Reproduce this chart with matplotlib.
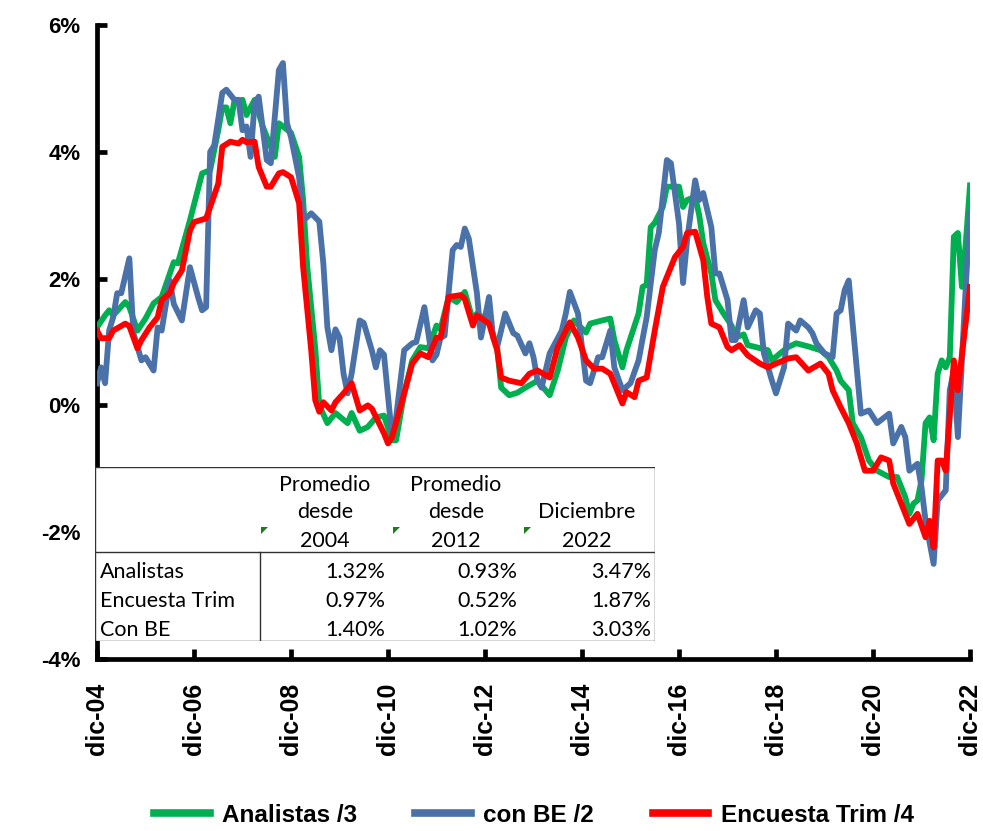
import matplotlib
matplotlib.use("Agg")
import matplotlib.pyplot as plt
from matplotlib.lines import Line2D
from matplotlib.patches import Polygon

# ---------------- data (month index: 0 = dic-04 ... 216 = dic-22) ----------------
analistas_mes = [0, 2, 3, 4, 7, 8, 10, 12, 14, 16, 19, 20, 23, 26, 28, 30, 31, 32, 33, 34, 36, 37, 39, 41,
                 44, 45, 48, 50, 51, 52, 54, 55, 57, 59, 62, 63, 65, 67, 69, 71, 73, 74, 76, 78, 80, 82,
                 84, 85, 87, 89, 91, 93, 94, 97, 99, 100, 102, 104, 106, 109, 112, 114, 116, 118, 121,
                 122, 125, 127, 128, 130, 131, 134, 135, 136, 137, 138, 140, 141, 144, 145, 146, 148,
                 149, 150, 152, 153, 155, 157, 158, 160, 161, 163, 166, 167, 169, 171, 173, 176, 179,
                 181, 183, 184, 186, 187, 189, 191, 193, 196, 198, 200, 201, 202, 203, 204, 205, 206,
                 207, 208, 209, 210, 211, 212, 213, 214, 215, 216]
analistas_val = [1.23, 1.42, 1.50, 1.42, 1.63, 1.55, 1.18, 1.37, 1.61, 1.71, 2.26, 2.24, 2.92, 3.66, 3.71,
                 4.34, 4.70, 4.70, 4.45, 4.80, 4.82, 4.58, 4.82, 4.40, 3.92, 4.45, 4.30, 3.92, 3.24, 2.20,
                 0.90, 0.00, -0.28, -0.12, -0.28, -0.12, -0.40, -0.34, -0.19, -0.16, -0.55, -0.55, 0.19,
                 0.71, 0.92, 0.90, 1.26, 1.20, 1.71, 1.63, 1.79, 1.34, 1.45, 1.32, 0.92, 0.28, 0.16,
                 0.20, 0.28, 0.39, 0.16, 0.55, 1.07, 1.34, 1.15, 1.29, 1.34, 1.37, 1.03, 0.60, 0.87,
                 1.45, 1.87, 1.90, 2.81, 2.88, 3.13, 3.45, 3.45, 3.13, 3.24, 3.29, 3.00, 2.56, 2.08,
                 1.66, 1.45, 1.26, 1.07, 1.12, 0.95, 0.92, 0.87, 0.71, 0.82, 0.92, 0.98, 0.93, 0.87,
                 0.76, 0.55, 0.39, 0.24, -0.28, -0.50, -0.87, -1.03, -1.13, -1.13, -1.45, -1.71, -1.55,
                 -1.50, -1.18, -0.28, -0.19, -0.55, 0.50, 0.71, 0.60, 0.76, 2.66, 2.72, 1.87, 2.60, 3.47]

conbe_mes = [0, 1, 2, 3, 4, 5, 6, 8, 9, 11, 12, 14, 15, 16, 18, 19, 21, 23, 25, 26, 27, 28, 29, 31, 32,
             34, 35, 36, 37, 38, 39, 40, 42, 43, 45, 46, 47, 48, 50, 51, 52, 53, 55, 56, 57, 58, 59, 60,
             61, 62, 63, 65, 66, 68, 69, 70, 71, 73, 74, 76, 78, 79, 81, 83, 84, 85, 86, 88, 89, 90, 91,
             92, 94, 95, 97, 98, 99, 101, 103, 104, 106, 107, 108, 109, 110, 112, 115, 116, 117, 119,
             121, 122, 124, 125, 127, 128, 130, 132, 134, 136, 138, 139, 141, 142, 144, 145, 146, 148,
             149, 150, 152, 153, 154, 156, 157, 158, 160, 161, 163, 164, 165, 167, 168, 170, 171, 173,
             174, 176, 177, 178, 180, 182, 183, 184, 185, 186, 189, 191, 193, 196, 197, 199, 200, 201,
             203, 204, 205, 207, 208, 210, 211, 212, 213, 215, 216]
conbe_val = [0.35, 0.60, 0.35, 1.18, 1.39, 1.77, 1.77, 2.32, 1.14, 0.71, 0.76, 0.55, 1.23, 1.18, 1.97,
             1.60, 1.34, 2.18, 1.71, 1.50, 1.55, 4.00, 4.10, 4.93, 4.98, 4.82, 4.82, 4.34, 4.40, 3.92,
             4.77, 4.87, 3.87, 3.82, 5.29, 5.40, 4.45, 4.23, 3.60, 2.92, 2.97, 3.03, 2.90, 2.24, 1.23,
             0.87, 1.20, 1.07, 0.50, 0.19, 0.50, 1.34, 1.30, 0.87, 0.60, 0.87, 0.80, -0.50, -0.19,
             0.87, 0.98, 1.00, 1.55, 0.71, 0.80, 1.07, 1.10, 2.45, 2.53, 2.50, 2.79, 2.63, 1.77, 1.07,
             1.71, 1.07, 0.92, 1.45, 1.14, 1.10, 0.82, 0.98, 0.76, 0.39, 0.28, 0.82, 1.18, 1.45, 1.79,
             1.45, 0.39, 0.35, 0.76, 0.76, 1.18, 0.60, 0.24, 0.35, 0.71, 1.39, 2.45, 2.72, 3.87, 3.82,
             2.87, 1.93, 2.60, 3.55, 3.24, 3.35, 2.81, 2.08, 2.08, 1.66, 1.03, 1.03, 1.66, 1.23, 1.50,
             1.45, 0.82, 0.39, 0.19, 0.60, 1.29, 1.18, 1.34, 1.23, 1.14, 0.98, 0.82, 0.76, 1.45, 1.50,
             1.82, 1.97, -0.13, -0.08, -0.28, -0.13, -0.60, -0.34, -0.50, -1.03, -0.92, -1.29, -1.82,
             -2.50, -1.50, -1.34, 0.24, 0.55, -0.50, 1.93, 3.03]

encuesta_mes = [0, 1, 3, 4, 7, 8, 10, 11, 13, 15, 16, 18, 19, 21, 23, 24, 27, 28, 30, 31, 33, 35, 36, 37,
                39, 40, 42, 43, 45, 46, 48, 50, 51, 53, 54, 55, 56, 58, 59, 61, 63, 65, 67, 68, 71, 72,
                73, 76, 78, 80, 82, 84, 85, 87, 90, 91, 93, 94, 97, 99, 100, 102, 105, 107, 109, 112,
                114, 117, 119, 121, 123, 125, 127, 130, 131, 133, 134, 136, 138, 140, 143, 145, 146, 148,
                150, 151, 152, 154, 156, 157, 159, 161, 164, 166, 168, 171, 173, 176, 179, 181, 182, 184,
                186, 188, 190, 192, 194, 196, 197, 199, 201, 203, 205, 206, 207, 208, 209, 210, 212, 213,
                214, 216]
encuesta_val = [1.18, 1.06, 1.06, 1.18, 1.29, 1.25, 0.90, 1.03, 1.23, 1.39, 1.66, 1.77, 1.93, 2.13, 2.76,
                2.89, 2.95, 3.13, 3.50, 4.08, 4.16, 4.13, 4.19, 4.15, 4.16, 3.76, 3.45, 3.45, 3.66, 3.68,
                3.60, 3.19, 2.18, 0.87, 0.08, -0.10, 0.05, -0.08, 0.05, 0.19, 0.35, -0.08, 0.00, -0.05,
                -0.44, -0.60, -0.50, 0.19, 0.66, 0.82, 0.76, 1.07, 1.07, 1.71, 1.74, 1.68, 1.26, 1.42,
                1.29, 0.87, 0.44, 0.39, 0.35, 0.50, 0.55, 0.44, 0.92, 1.31, 1.07, 0.71, 0.58, 0.58, 0.50,
                0.03, 0.21, 0.13, 0.39, 0.44, 1.18, 1.87, 2.34, 2.50, 2.72, 2.74, 2.29, 1.71, 1.29, 1.23,
                0.92, 0.87, 0.95, 0.79, 0.66, 0.60, 0.66, 0.74, 0.76, 0.55, 0.66, 0.50, 0.24, -0.03,
                -0.28, -0.60, -1.03, -1.03, -0.82, -0.87, -1.23, -1.55, -1.87, -1.71, -2.08, -1.82, -2.24,
                -0.87, -0.87, -1.03, 0.71, 0.24, 0.80, 1.87]

xtick_mes = [0, 24, 48, 72, 96, 120, 144, 168, 192, 216]
xtick_labels = ["dic-04", "dic-06", "dic-08", "dic-10", "dic-12", "dic-14", "dic-16", "dic-18", "dic-20", "dic-22"]
ytick_vals = [-4, -2, 0, 2, 4, 6]
ytick_labels = ["-4%", "-2%", "0%", "2%", "4%", "6%"]

tabla_cols = ["Promedio\ndesde\n2004", "Promedio\ndesde\n2012", "Diciembre\n2022"]
tabla_filas = ["Analistas", "Encuesta Trim", "Con BE"]
tabla_valores = [["1.32%", "0.93%", "3.47%"],
                 ["0.97%", "0.52%", "1.87%"],
                 ["1.40%", "1.02%", "3.03%"]]

series_labels = ["Analistas /3", "con BE /2", "Encuesta Trim /4"]
GREEN = "#00B050"
BLUE = "#4A72A8"
RED = "#FF0000"

# ---------------- figure ----------------
W, H = 983, 831
fig = plt.figure(figsize=(W / 100, H / 100), dpi=100)
ax = fig.add_axes([97 / W, 1 - 659 / H, (970 - 97) / W, (659 - 25) / H])

lw = 4.2
ax.plot(analistas_mes, analistas_val, color=GREEN, lw=lw, solid_joinstyle="round", zorder=3)
ax.plot(conbe_mes, conbe_val, color=BLUE, lw=lw, solid_joinstyle="round", zorder=4)
ax.plot(encuesta_mes, encuesta_val, color=RED, lw=lw, solid_joinstyle="round", zorder=5)

ax.set_xlim(0, 216)
ax.set_ylim(-4, 6)
for s in ["top", "right"]:
    ax.spines[s].set_visible(False)
for s in ["left", "bottom"]:
    ax.spines[s].set_linewidth(3.4)
    ax.spines[s].set_color("black")
    ax.spines[s].set_capstyle("projecting")

ax.set_xticks(xtick_mes)
ax.set_xticklabels(xtick_labels, rotation=90, fontsize=18, fontweight="bold",
                   family=["Liberation Sans", "DejaVu Sans"])
ax.set_yticks(ytick_vals)
ax.set_yticklabels(ytick_labels, fontsize=16, fontweight="bold",
                   family=["Liberation Sans", "DejaVu Sans"])
ax.tick_params(axis="x", direction="in", length=7, width=3.4, pad=17)
ax.tick_params(axis="y", direction="in", length=7, width=3.4, pad=12)

# ---------------- embedded table ----------------
tx0, ty0, tx1, ty1 = 95, 467, 655, 641
tab = fig.add_axes([tx0 / W, 1 - ty1 / H, (tx1 - tx0) / W, (ty1 - ty0) / H], zorder=6)
tab.set_xlim(0, tx1 - tx0)
tab.set_ylim(ty1 - ty0, 0)
tab.axis("off")
tab.add_patch(plt.Rectangle((0, 0), tx1 - tx0, ty1 - ty0, facecolor="white",
                            edgecolor="#303030", lw=1.0))
tab.plot([0, tx1 - tx0], [85, 85], color="#303030", lw=1.0)
tab.plot([165, 165], [85, ty1 - ty0], color="#303030", lw=1.0)

tfont = ["Lato", "DejaVu Sans"]
tsize = 15.5
col_centers = [230, 361, 492]
col_rights = [290, 422, 556]
header_line_y = [18, 45, 74]
for c, txt in enumerate(tabla_cols):
    lines = txt.split("\n")
    start = 3 - len(lines)
    for i, ln in enumerate(lines):
        tab.text(col_centers[c], header_line_y[start + i], ln, ha="center", va="center",
                 fontsize=tsize, family=tfont, color="black")
    # small green marker in header cell corner
    px = [166, 298, 429][c]
    tab.add_patch(Polygon([[px, 60], [px + 7, 60], [px, 67]], closed=True,
                          facecolor="#1E7B1E", edgecolor="none"))
row_y = [105, 134, 163]
for r, name in enumerate(tabla_filas):
    tab.text(5, row_y[r], name, ha="left", va="center", fontsize=tsize, family=tfont, color="black")
    for c in range(3):
        tab.text(col_rights[c], row_y[r], tabla_valores[r][c], ha="right", va="center",
                 fontsize=tsize, family=tfont, color="black")

# ---------------- legend ----------------
handles = [Line2D([], [], color=col, lw=5.5) for col in (GREEN, BLUE, RED)]
fig.legend(handles, series_labels, loc="center", bbox_to_anchor=(0.543, 1 - 815 / H), ncol=3,
           frameon=False, handlelength=2.3, columnspacing=2.4, handletextpad=0.5,
           prop={"family": ["Liberation Sans", "DejaVu Sans"], "weight": "bold", "size": 17.5})

fig.savefig("out.png", dpi=100)
